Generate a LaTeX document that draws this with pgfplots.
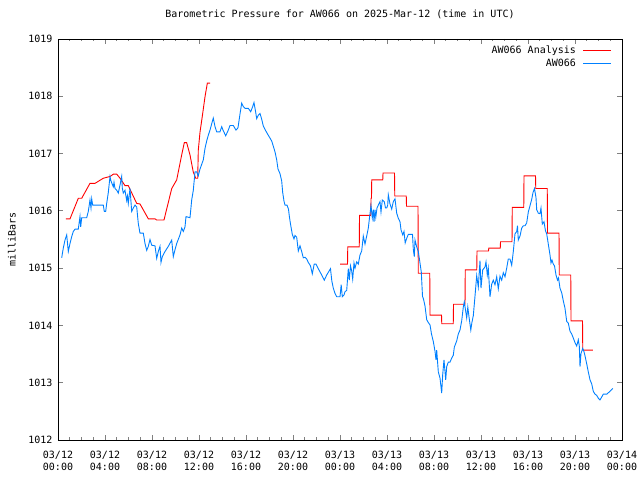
\documentclass[border=0pt]{standalone}
\usepackage{pgfplots}
\pgfplotsset{compat=1.18}
\usepackage{fontspec}
\setmainfont{DejaVu Sans Mono}
\newcommand{\gfont}{\fontsize{10bp}{12bp}\selectfont}
\definecolor{gpblue}{RGB}{0,128,255}
\definecolor{gpred}{RGB}{255,0,0}
\pgfplotsset{
  gplegend/.style={legend image code/.code={\draw[##1] (0bp,0bp) -- (28bp,0bp);}},
}

\pgfplotstableread{
h v
0.68 1015.86
1.02 1015.86
1.73 1016.22
2.02 1016.22
2.72 1016.48
3.15 1016.48
3.86 1016.57
4.43 1016.60
4.71 1016.64
5.00 1016.64
5.28 1016.57
5.70 1016.44
5.98 1016.44
6.70 1016.13
6.98 1016.12
7.69 1015.86
8.26 1015.86
8.40 1015.84
9.02 1015.84
9.68 1016.39
10.10 1016.54
10.53 1016.98
10.75 1017.19
10.95 1017.19
11.23 1016.98
11.51 1016.68
11.72 1016.57
11.89 1016.57
11.94 1017.06
12.09 1017.38
12.26 1017.62
12.51 1017.99
12.71 1018.23
12.94 1018.23
}\anaA

\pgfplotstableread{
h v
24.00 1015.07
24.64 1015.07
24.66 1015.37
25.64 1015.37
25.66 1015.92
26.62 1015.92
26.64 1016.22
26.68 1016.22
26.70 1016.54
27.64 1016.54
27.66 1016.66
28.64 1016.66
28.66 1016.26
29.64 1016.26
29.66 1016.08
30.64 1016.08
30.66 1014.91
31.64 1014.91
31.66 1014.18
32.64 1014.18
32.66 1014.03
33.64 1014.03
33.66 1014.37
34.64 1014.37
34.66 1014.97
35.64 1014.97
35.66 1015.30
36.64 1015.30
36.66 1015.35
37.64 1015.35
37.66 1015.46
38.64 1015.46
38.66 1016.06
39.64 1016.06
39.66 1016.61
40.64 1016.61
40.66 1016.39
41.64 1016.39
41.66 1015.61
42.64 1015.61
42.66 1014.88
43.64 1014.88
43.66 1014.08
44.64 1014.08
44.66 1013.57
45.52 1013.57
}\anaB

\pgfplotstableread{
h v
0.315 1015.18
0.451 1015.35
0.596 1015.49
0.740 1015.58
0.877 1015.29
1.021 1015.43
1.166 1015.55
1.302 1015.64
1.447 1015.68
1.728 1015.68
1.872 1015.90
1.932 1015.72
2.017 1015.88
2.443 1015.88
2.579 1015.99
2.723 1016.19
2.809 1016.05
2.868 1016.21
2.953 1016.10
3.855 1016.10
3.940 1015.99
4.060 1015.99
4.145 1016.13
4.281 1016.32
4.426 1016.60
4.511 1016.52
4.706 1016.42
4.766 1016.50
4.851 1016.39
4.996 1016.36
5.132 1016.31
5.277 1016.45
5.421 1016.60
5.472 1016.40
5.557 1016.31
5.702 1016.36
5.847 1016.18
5.915 1016.26
5.983 1016.13
6.128 1016.39
6.272 1015.99
6.409 1016.05
6.553 1016.10
6.698 1016.07
6.834 1015.78
6.979 1015.61
7.260 1015.61
7.404 1015.43
7.549 1015.31
7.685 1015.38
7.830 1015.50
7.974 1015.40
8.255 1015.39
8.400 1015.17
8.536 1015.29
8.681 1015.38
8.766 1015.10
8.877 1015.20
9.106 1015.29
9.387 1015.38
9.677 1015.49
9.813 1015.20
9.957 1015.32
10.102 1015.43
10.383 1015.58
10.528 1015.70
10.664 1015.64
10.809 1015.72
10.894 1015.90
11.234 1015.88
11.379 1016.19
11.515 1016.36
11.660 1016.68
11.804 1016.68
11.940 1016.61
12.085 1016.73
12.366 1016.89
12.511 1017.09
12.655 1017.22
12.791 1017.32
12.936 1017.41
13.081 1017.52
13.217 1017.62
13.362 1017.47
13.506 1017.38
13.787 1017.38
13.932 1017.47
14.043 1017.41
14.272 1017.31
14.494 1017.41
14.638 1017.49
14.919 1017.49
15.149 1017.41
15.319 1017.45
15.489 1017.69
15.634 1017.88
15.770 1017.82
15.915 1017.79
16.196 1017.79
16.400 1017.73
16.570 1017.82
16.681 1017.89
16.809 1017.74
16.911 1017.61
17.047 1017.67
17.191 1017.70
17.336 1017.60
17.472 1017.48
17.643 1017.41
17.898 1017.32
18.187 1017.22
18.323 1017.13
18.468 1017.03
18.613 1016.89
18.723 1016.73
18.894 1016.65
19.038 1016.52
19.123 1016.32
19.234 1016.17
19.319 1016.10
19.489 1016.10
19.617 1016.03
19.685 1015.91
19.787 1015.77
19.940 1015.59
20.085 1015.51
20.170 1015.57
20.315 1015.54
20.451 1015.30
20.596 1015.39
20.740 1015.29
20.877 1015.18
21.021 1015.19
21.166 1015.16
21.302 1015.10
21.489 1015.04
21.643 1014.90
21.804 1015.07
21.957 1015.07
22.153 1014.99
22.443 1014.88
22.664 1014.79
22.868 1014.88
23.191 1014.99
23.302 1014.78
23.430 1014.65
23.574 1014.56
23.719 1014.50
24.000 1014.50
24.102 1014.71
24.196 1014.50
24.340 1014.53
24.426 1014.59
24.570 1014.61
24.706 1014.99
24.791 1014.79
24.894 1015.04
24.996 1014.95
25.081 1014.81
25.191 1015.09
25.277 1015.00
25.421 1015.11
25.557 1015.07
25.702 1015.23
25.847 1015.30
25.983 1015.56
26.128 1015.42
26.272 1015.56
26.409 1015.70
26.511 1015.88
26.638 1016.09
26.749 1015.88
26.834 1016.02
26.894 1015.81
26.979 1016.02
27.047 1015.89
27.149 1016.05
27.260 1016.10
27.404 1016.16
27.489 1015.98
27.600 1016.19
27.770 1016.16
27.872 1016.05
27.974 1016.05
28.060 1016.10
28.111 1016.28
28.255 1016.12
28.400 1016.03
28.536 1016.16
28.681 1016.21
28.826 1015.96
28.962 1015.87
29.106 1015.81
29.191 1015.67
29.336 1015.58
29.447 1015.64
29.549 1015.44
29.677 1015.52
29.813 1015.59
30.170 1015.59
30.238 1015.33
30.323 1015.20
30.383 1015.49
30.528 1015.37
30.664 1015.29
30.809 1015.09
30.919 1014.93
31.021 1014.51
31.106 1014.46
31.234 1014.34
31.379 1014.10
31.515 1014.05
31.660 1014.01
31.787 1013.85
31.940 1013.72
32.085 1013.55
32.170 1013.40
32.230 1013.57
32.366 1013.19
32.511 1013.08
32.655 1012.82
32.740 1013.14
32.851 1013.40
32.996 1013.05
33.081 1013.28
33.217 1013.36
33.362 1013.36
33.506 1013.43
33.643 1013.48
33.728 1013.62
33.932 1013.73
34.068 1013.85
34.213 1013.92
34.357 1014.08
34.494 1014.32
34.579 1014.41
34.681 1014.27
34.783 1014.13
34.877 1014.32
34.979 1014.15
35.132 1013.92
35.217 1014.04
35.345 1014.17
35.489 1014.51
35.634 1014.87
35.770 1014.67
35.915 1015.13
36.000 1014.65
36.145 1014.97
36.340 1015.02
36.426 1015.11
36.536 1014.88
36.621 1015.00
36.766 1014.50
36.911 1014.72
37.047 1014.79
37.191 1014.71
37.336 1014.85
37.472 1014.64
37.617 1014.86
37.762 1014.79
37.898 1014.92
38.043 1014.85
38.187 1015.00
38.323 1015.16
38.468 1015.16
38.613 1015.05
38.749 1015.29
38.894 1015.60
39.038 1015.64
39.106 1015.74
39.174 1015.49
39.319 1015.56
39.464 1015.70
39.600 1015.74
39.745 1015.74
39.889 1015.79
40.026 1015.98
40.170 1016.09
40.315 1016.20
40.426 1016.32
40.553 1016.39
40.681 1016.23
40.740 1016.02
40.877 1015.96
41.021 1015.95
41.106 1016.05
41.217 1015.77
41.362 1015.81
41.489 1015.65
41.591 1015.60
41.728 1015.42
41.872 1015.23
41.957 1015.09
42.043 1015.14
42.153 1015.07
42.255 1015.04
42.383 1014.88
42.511 1014.79
42.596 1014.83
42.723 1014.65
42.868 1014.57
43.004 1014.43
43.149 1014.30
43.294 1014.07
43.430 1014.04
43.574 1013.90
43.719 1013.85
43.855 1013.78
44.000 1013.70
44.145 1013.64
44.281 1013.75
44.366 1013.64
44.426 1013.28
44.511 1013.51
44.655 1013.60
44.766 1013.54
44.851 1013.47
44.996 1013.33
45.132 1013.19
45.277 1013.05
45.421 1012.98
45.557 1012.85
45.702 1012.80
45.847 1012.78
45.983 1012.73
46.128 1012.70
46.272 1012.75
46.409 1012.80
46.698 1012.80
46.979 1012.85
47.209 1012.90
}\obs

\begin{document}
\begin{tikzpicture}
\begin{axis}[
  scale only axis, width=564bp, height=401bp,
  xmin=0, xmax=48, ymin=1012, ymax=1019,
  xtick={0,4,...,48},
  xticklabels={{03/12\\00:00},{03/12\\04:00},{03/12\\08:00},{03/12\\12:00},{03/12\\16:00},{03/12\\20:00},{03/13\\00:00},{03/13\\04:00},{03/13\\08:00},{03/13\\12:00},{03/13\\16:00},{03/13\\20:00},{03/14\\00:00}},
  minor x tick num=3,
  ytick={1012,1013,...,1019},
  xtick pos=both, ytick pos=both,
  xticklabel pos=lower, yticklabel pos=left,
  tick align=inside,
  major tick length=5bp, minor tick length=2.5bp,
  tick style={line width=0.8bp},
  axis line style={line width=0.8bp},
  xticklabel style={align=center, font=\gfont, yshift=-8bp},
  yticklabel style={font=\gfont, xshift=-2bp, /pgf/number format/1000 sep={}, /pgf/number format/assume math mode=true},
  title={Barometric Pressure for AW066 on 2025-Mar-12 (time in UTC)},
  title style={font=\gfont, at={(axis description cs:0.5,1)}, anchor=base, yshift=16bp},
  ylabel={milliBars},
  ylabel style={font=\gfont, at={(axis description cs:-0.0816,0.5)}, anchor=center},
  gplegend,
  legend plot pos=right,
  legend cell align=right,
  legend style={draw=none, fill=none, font=\gfont, at={(axis description cs:1,1)}, anchor=north east, xshift=-10bp, yshift=-7bp, inner sep=0pt, row sep=4bp, column sep=7bp, nodes={inner sep=0pt}},
]
\addplot[color=gpred, line width=0.9bp] table[x=h, y=v] {\anaA};
\addlegendentry{AW066 Analysis}
\addplot[color=gpred, line width=0.9bp, forget plot] table[x=h, y=v] {\anaB};
\addplot[color=gpblue, line width=0.9bp] table[x=h, y=v] {\obs};
\addlegendentry{AW066}
\end{axis}
\pgfresetboundingbox
\path[use as bounding box] (current axis.south west) ++(-58bp,-40bp) rectangle ++(640bp,480bp);
\end{tikzpicture}
\end{document}
